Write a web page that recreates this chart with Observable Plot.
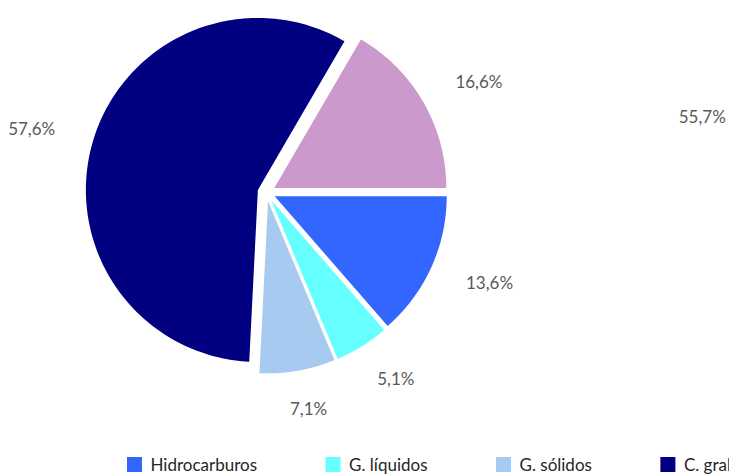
<!DOCTYPE html>
<html><head><meta charset="utf-8">
<script src="https://cdn.jsdelivr.net/npm/d3@7"></script>
<script src="https://cdn.jsdelivr.net/npm/@observablehq/plot@0.6"></script>
<style>html,body{margin:0;padding:0;background:#fff;overflow:hidden}</style>
</head><body><div id="chart"></div>
<script>
// ---- data ----
const categories = ["Hidrocarburos", "G. líquidos", "G. sólidos", "C. gral.", "Otros"];
const values = [13.6, 5.1, 7.1, 57.6, 16.6];
const labels = ["13,6%", "5,1%", "7,1%", "57,6%", "16,6%"];
const colors = ["#3366FF", "#66FFFF", "#A6CAF0", "#000080", "#CC99CC"];
// second pie (off to the right, only one label visible)
const secondCategories = ["C. gral."];
const secondValues = [55.7];
const secondLabels = ["55,7%"];

// ---- layout ----
const W = 729, H = 474;
const cx = 266, cy = 192, R = 172, explode = 9;
const labelRx = 245, labelRy = 220;
const secondOffset = 666;
const font = "Lato";
const labelSize = 17, legendSize = 17;

const data = categories.map((name, i) => ({name, value: values[i], label: labels[i]}));
const arcs = d3.pie().sort(null).value(d => d.value)
  .startAngle(Math.PI / 2).endAngle(Math.PI / 2 + 2 * Math.PI)(data);

const slicePoints = [];
const labelData = [];
for (const a of arcs) {
  const mid = (a.startAngle + a.endAngle) / 2;
  const ox = cx + explode * Math.sin(mid), oy = cy - explode * Math.cos(mid);
  slicePoints.push({name: a.data.name, x: ox, y: oy});
  const n = 160;
  for (let k = 0; k <= n; ++k) {
    const t = a.startAngle + (a.endAngle - a.startAngle) * k / n;
    slicePoints.push({name: a.data.name, x: ox + R * Math.sin(t), y: oy - R * Math.cos(t)});
  }
  labelData.push({x: cx + labelRx * Math.sin(mid), y: cy - labelRy * Math.cos(mid), text: a.data.label});
}
// second pie label: same layout, its slice ends where the first pie's C. gral. slice ends
{
  const end = arcs[3].endAngle;
  const mid = end - Math.PI * 2 * secondValues[0] / 100 / 2;
  labelData.push({x: cx + secondOffset + labelRx * Math.sin(mid), y: cy - labelRy * Math.cos(mid), text: secondLabels[0]});
}

// legend layout (sequential, like Excel)
const ctx = document.createElement("canvas").getContext("2d");
ctx.font = `${legendSize}px ${font}`;
const legend = [];
let lx = 127;
for (const name of categories) {
  const w = ctx.measureText(name).width;
  legend.push({name, x1: lx, x2: lx + 15, y1: 457, y2: 472, tx: lx + 23, ty: 470});
  lx += 23 + w + 69;
}

const plot = Plot.plot({
  width: W, height: H, margin: 0,
  x: {domain: [0, W], range: [0, W], axis: null},
  y: {domain: [0, H], range: [0, H], axis: null},
  color: {domain: categories, range: colors},
  style: {fontFamily: font, background: "#fff"},
  marks: [
    Plot.line(slicePoints, {x: "x", y: "y", z: "name", fill: "name", stroke: "none", curve: "linear-closed"}),
    Plot.text(labelData, {x: "x", y: "y", text: "text", fill: "#595959", fontSize: labelSize, fontFamily: font}),
    Plot.rect(legend, {x1: "x1", x2: "x2", y1: "y1", y2: "y2", fill: "name"}),
    Plot.text(legend, {x: "tx", y: "ty", text: "name", textAnchor: "start", lineAnchor: "bottom", fill: "#262626", fontSize: legendSize, fontFamily: font})
  ]
});
document.getElementById("chart").appendChild(plot);
</script>
</body></html>
